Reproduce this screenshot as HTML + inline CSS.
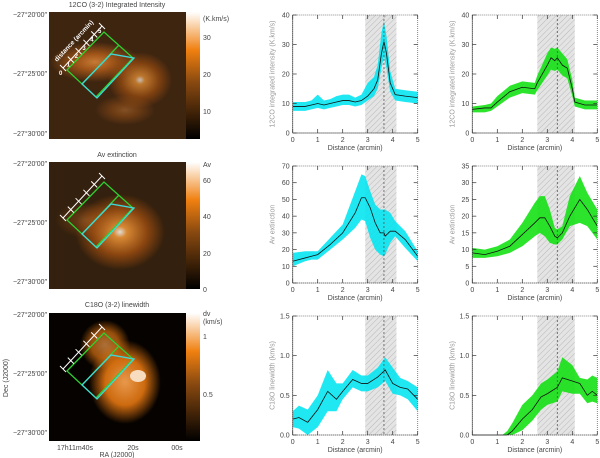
<!DOCTYPE html>
<html><head><meta charset="utf-8">
<style>
html,body{margin:0;padding:0;background:#fff;}
svg{display:block;font-family:"Liberation Sans",sans-serif;}
text{fill:#444;font-size:7px;}
</style></head>
<body>
<svg id="fig" width="600" height="458" viewBox="0 0 600 458" xmlns="http://www.w3.org/2000/svg">
<defs>
<pattern id="hatch" width="4" height="4" patternUnits="userSpaceOnUse" patternTransform="rotate(45)">
<rect width="4" height="4" fill="#e4e4e4"/><line x1="0" y1="0" x2="0" y2="4" stroke="#b8b8b8" stroke-width="1"/>
</pattern>
<linearGradient id="cbar" x1="0" y1="1" x2="0" y2="0">
<stop offset="0" stop-color="#000"/><stop offset="0.45" stop-color="#8a4a10"/><stop offset="0.7" stop-color="#f08010"/><stop offset="1" stop-color="#fff"/>
</linearGradient>
<radialGradient id="blob1" cx="0.5" cy="0.5" r="0.5"><stop offset="0" stop-color="#e89040"/><stop offset="0.4" stop-color="#b8601a"/><stop offset="1" stop-color="#b8601a" stop-opacity="0"/></radialGradient>
<radialGradient id="blob2" cx="0.5" cy="0.5" r="0.5"><stop offset="0" stop-color="#ffffff"/><stop offset="0.15" stop-color="#f39a3a"/><stop offset="0.6" stop-color="#9a4c10"/><stop offset="1" stop-color="#9a4c10" stop-opacity="0"/></radialGradient>
<radialGradient id="blob3" cx="0.5" cy="0.5" r="0.5"><stop offset="0" stop-color="#f4a050"/><stop offset="0.55" stop-color="#d87010"/><stop offset="1" stop-color="#d87010" stop-opacity="0"/></radialGradient>
</defs>

<g>
<text x="117" y="7" text-anchor="middle">12CO (3-2) Integrated Intensity</text>
<rect x="49" y="12" width="137" height="127" fill="#3e2510"/>
<ellipse cx="95" cy="62" rx="45" ry="20" fill="url(#blob1)" opacity="0.8"/>
<ellipse cx="140" cy="80" rx="32" ry="28" fill="url(#blob2)" opacity="0.7"/>
<ellipse cx="125" cy="110" rx="30" ry="15" fill="url(#blob1)" opacity="0.4"/>
<rect x="186" y="12" width="14" height="127" fill="url(#cbar)"/>
<text x="203" y="21">(K.km/s)</text><text x="203" y="40">30</text><text x="203" y="77">20</text><text x="203" y="114">10</text>
<text x="47" y="17" text-anchor="end">−27°20′00″</text><text x="47" y="76" text-anchor="end">−27°25′00″</text><text x="47" y="136" text-anchor="end">−27°30′00″</text>
</g>
<g>
<text x="117" y="157" text-anchor="middle">Av extinction</text>
<rect x="49" y="162" width="137" height="127" fill="#33200e"/>
<ellipse cx="120" cy="232" rx="45" ry="38" fill="url(#blob2)" opacity="0.85"/>
<ellipse cx="85" cy="220" rx="30" ry="18" fill="url(#blob1)" opacity="0.3"/>
<rect x="186" y="162" width="14" height="127" fill="url(#cbar)"/>
<text x="203" y="167">Av</text><text x="203" y="183">60</text><text x="203" y="219">40</text><text x="203" y="256">20</text><text x="203" y="292">0</text>
<text x="47" y="166" text-anchor="end">−27°20′00″</text><text x="47" y="225" text-anchor="end">−27°25′00″</text><text x="47" y="284" text-anchor="end">−27°30′00″</text>
</g>
<g>
<text x="117" y="307" text-anchor="middle">C18O (3-2) linewidth</text>
<rect x="49" y="313" width="137" height="128" fill="#050200"/>
<ellipse cx="125" cy="382" rx="36" ry="42" fill="url(#blob3)" opacity="0.95"/>
<ellipse cx="105" cy="345" rx="25" ry="25" fill="url(#blob3)" opacity="0.7"/>
<ellipse cx="138" cy="376" rx="8" ry="6" fill="#f8dcc0"/>
<rect x="186" y="313" width="14" height="128" fill="url(#cbar)"/>
<text x="203" y="316">dv</text><text x="203" y="324">(km/s)</text><text x="203" y="339">1</text><text x="203" y="397">0.5</text>
<text x="47" y="317" text-anchor="end">−27°20′00″</text><text x="47" y="376" text-anchor="end">−27°25′00″</text><text x="47" y="435" text-anchor="end">−27°30′00″</text>
<text x="75" y="450" text-anchor="middle">17h11m40s</text><text x="133" y="450" text-anchor="middle">20s</text><text x="177" y="450" text-anchor="middle">00s</text>
<text x="117" y="457" text-anchor="middle">RA (J2000)</text>
<text transform="translate(8,378) rotate(-90)" text-anchor="middle">Dec (J2000)</text>
</g>
<g id="overlays"></g>
<g id="plots"></g>
</svg>
<script>
const NS="http://www.w3.org/2000/svg";
function mk(tag,attrs,parent){const e=document.createElementNS(NS,tag);for(const k in attrs)e.setAttribute(k,attrs[k]);parent.appendChild(e);return e;}

const mapTops=[12,162,313];
const ov=document.getElementById('overlays');
mapTops.forEach(function(t,i){
  const g=mk('g',{transform:'translate(49,'+t+')'},ov);
  
  
  mk('polygon',{points:'18,58 55,20 84,46 47,85',fill:'none',stroke:'#2fd02f','stroke-width':1.3},g);
  mk('line',{x1:33,y1:72,x2:70,y2:33,stroke:'#2fd02f','stroke-width':1.3},g);
  mk('polygon',{points:'33,72 62,42 85,46 48,86',fill:'none',stroke:'#40d8d8','stroke-width':1.3},g);
  mk('line',{x1:14,y1:56,x2:53,y2:14,stroke:'#fff','stroke-width':1},g);
  for(let k=0;k<=5;k++){const x=14+k*7.8,y=56-k*8.4;mk('line',{x1:x-3,y1:y-3,x2:x+3,y2:y+3,stroke:'#fff','stroke-width':1},g);}
  if(i===0){
    const tl=mk('text',{transform:'translate(8,50) rotate(-47)',style:'fill:#fff;font-size:6.5px;font-weight:bold'},g);
    tl.textContent='distance (arcmin)';
    ['0','1','2','3','4','5'].forEach(function(s,k){const tt=mk('text',{x:10+k*7.8,y:63-k*8.4,style:'fill:#fff;font-size:6px;font-weight:bold'},g);tt.textContent=s;});
  }
});

const xTicks=[0,1,2,3,4,5];
const co_cyan_x=[0,0.5,0.75,1,1.25,1.5,1.75,2,2.25,2.5,2.75,3,3.25,3.4,3.55,3.65,3.75,3.9,4.1,4.5,5];
const co_cyan_mid=[9,9,9.5,10,9.5,10,10.5,11,11,10.5,11,12.5,15,18,27,31,27,17,13,12.5,12];
const co_cyan_hi=[10.5,10.5,11,13,11,11.5,12.5,13,13,12,13,17,19,23,34,38,33,21,15,14.5,14];
const co_cyan_lo=[7.5,7.5,8,8.5,8,8.5,9,9.5,9.5,9,9.5,11,12.5,15,22,26,22,14,11,10.5,10];
const co_green_x=[0,0.5,0.75,1,1.5,2,2.5,2.6,3,3.15,3.3,3.4,3.6,3.8,4,4.1,4.5,5];
const co_green_mid=[8,8.5,8.5,10.5,14,15.5,15,17,23,25.5,24.5,25.5,23,22,15,10.5,9.5,9.5];
const co_green_hi=[9,9.5,10,12.5,16,17.5,17,19.5,27,29,28.5,29,27,25,18,12,11,11];
const co_green_lo=[7,7,7.5,9,12,13.5,13,14.5,19.5,21.5,21,21.5,19.5,18.5,12.5,9,8,8];
const av_cyan_x=[0,0.5,0.75,1,1.5,2,2.5,2.75,2.9,3.1,3.3,3.5,3.65,3.7,3.9,4.1,4.5,5];
const av_cyan_mid=[13,15,16,17,23,30,42,51,51,45,36,30,30,28,31,31,26,16];
const av_cyan_hi=[18,19,19,19,27,35,55,65,64,55,47,44,44,44,42,37,31,19];
const av_cyan_lo=[10,13,14,14,20,26,33,38,37,27,20,17,16,17,24,28,21,13];
const av_green_x=[0,0.5,1,1.5,2,2.5,2.7,2.9,3.1,3.3,3.4,3.6,3.9,4.3,4.6,5];
const av_green_mid=[9,8.5,9.5,11,14.5,18,19.5,19.5,17,14,13.5,15,20,25,22,17];
const av_green_hi=[10.5,10,11,13,18,24,26,26,22,16.5,16,17,26,32,27,22];
const av_green_lo=[7.5,7.5,8,9,11,14,15,14,12,11.5,11.5,13,17,18,17,13];
const lw_cyan_x=[0,0.25,0.6,1,1.4,1.75,2,2.4,2.75,3,3.4,3.7,4,4.3,4.6,5];
const lw_cyan_mid=[0.2,0.22,0.16,0.32,0.55,0.45,0.55,0.7,0.65,0.65,0.73,0.82,0.65,0.6,0.58,0.45];
const lw_cyan_hi=[0.3,0.37,0.32,0.5,0.82,0.65,0.65,0.82,0.75,0.75,0.85,0.98,0.85,0.72,0.68,0.6];
const lw_cyan_lo=[0.1,0.08,0,0.1,0.3,0.3,0.45,0.6,0.55,0.55,0.6,0.68,0.52,0.5,0.45,0.3];
const lw_green_x=[0,1.2,1.4,1.6,2,2.4,2.75,3,3.4,3.6,4,4.3,4.6,4.8,5];
const lw_green_mid=[0,0,0,0.05,0.2,0.32,0.48,0.52,0.6,0.72,0.68,0.65,0.5,0.55,0.5];
const lw_green_hi=[0,0,0.05,0.15,0.38,0.5,0.65,0.7,0.8,0.98,0.88,0.72,0.7,0.75,0.72];
const lw_green_lo=[0,0,0,0,0.06,0.18,0.32,0.38,0.42,0.55,0.52,0.52,0.4,0.42,0.4];
const coTicks=[0,10,20,30,40];
const avCyanTicks=[0,10,20,30,40,50,60,70];
const avGreenTicks=[0,5,10,15,20,25,30,35];
const lwTicks=[0,0.5,1.0,1.5];
const lwTickLabels=['0.0','0.5','1.0','1.5'];
const cyanRegion=[2.9,4.15,3.65];
const greenRegion=[2.6,4.1,3.4];

const plots=document.getElementById('plots');
function panel(o){
  const x0=o.left,x1=o.left+125,y0=o.bottom,y1=o.top;
  const ymax=o.ticks[o.ticks.length-1];
  const X=function(v){return x0+(v/5)*(x1-x0);};
  const Y=function(v){return y0-(v/ymax)*(y0-y1);};
  const g=mk('g',{},plots);
  
  
  const sh=mk('rect',{x:X(o.region[0]),y:y1,width:X(o.region[1])-X(o.region[0]),height:y0-y1,fill:'url(#hatch)'},g);
  
  
  let pts=[];
  for(let i=0;i<o.x.length;i++)pts.push(X(o.x[i])+','+Y(o.hi[i]));
  for(let i=o.x.length-1;i>=0;i--)pts.push(X(o.x[i])+','+Y(o.lo[i]));
  const band=mk('polygon',{points:pts.join(' '),fill:o.color,'fill-opacity':0.88},g);
  
  
  mk('line',{x1:X(o.region[2]),y1:y1,x2:X(o.region[2]),y2:y0,stroke:'#555','stroke-width':0.8,'stroke-dasharray':'2,2'},g);
  const lp=o.x.map(function(v,i){return X(v)+','+Y(o.mid[i]);}).join(' ');
  const ln=mk('polyline',{points:lp,fill:'none',stroke:'#111','stroke-width':0.8},g);
  
  
  mk('rect',{x:x0,y:y1,width:x1-x0,height:y0-y1,fill:'none',stroke:'#666','stroke-width':0.8,'stroke-dasharray':'1,1'},g);
  mk('line',{x1:x0,y1:y1,x2:x0,y2:y0,stroke:'#333','stroke-width':0.8,'stroke-dasharray':'1,1'},g);
  mk('line',{x1:x0,y1:y0,x2:x1,y2:y0,stroke:'#333','stroke-width':0.8,'stroke-dasharray':'1,1'},g);
  xTicks.forEach(function(t){
    mk('line',{x1:X(t),y1:y0,x2:X(t),y2:y0-4,stroke:'#333','stroke-width':0.7},g);
    mk('line',{x1:X(t),y1:y1,x2:X(t),y2:y1+4,stroke:'#333','stroke-width':0.7},g);
    const tx=mk('text',{x:X(t),y:y0+9,'text-anchor':'middle'},g);tx.textContent=String(t);
  });
  o.ticks.forEach(function(t,i){
    mk('line',{x1:x0,y1:Y(t),x2:x0+4,y2:Y(t),stroke:'#333','stroke-width':0.7},g);
    mk('line',{x1:x1,y1:Y(t),x2:x1-4,y2:Y(t),stroke:'#333','stroke-width':0.7},g);
    const ty=mk('text',{x:x0-3,y:Y(t)+2.5,'text-anchor':'end'},g);ty.textContent=o.labels?o.labels[i]:String(t);
  });
  const xt=mk('text',{x:(x0+x1)/2,y:y0+17,'text-anchor':'middle'},g);
  
  
  xt.textContent='Distance (arcmin)';
  const yt=mk('text',{transform:'translate('+(x0-18)+','+((y0+y1)/2)+') rotate(-90)','text-anchor':'middle',style:'fill:#999'},g);
  
  
  yt.textContent=o.ytitle;
}
const C='#00e5f0',G='#10e010';
panel({name:'plot-12co-cyan',left:292.7,top:15,bottom:133,ticks:coTicks,x:co_cyan_x,mid:co_cyan_mid,hi:co_cyan_hi,lo:co_cyan_lo,color:C,region:cyanRegion,ytitle:'12CO integrated intensity (K.km/s)'});
panel({name:'plot-12co-green',left:472.3,top:15,bottom:133,ticks:coTicks,x:co_green_x,mid:co_green_mid,hi:co_green_hi,lo:co_green_lo,color:G,region:greenRegion,ytitle:'12CO integrated intensity (K.km/s)'});
panel({name:'plot-av-cyan',left:292.7,top:166,bottom:283,ticks:avCyanTicks,x:av_cyan_x,mid:av_cyan_mid,hi:av_cyan_hi,lo:av_cyan_lo,color:C,region:cyanRegion,ytitle:'Av extinction'});
panel({name:'plot-av-green',left:472.3,top:166,bottom:283,ticks:avGreenTicks,x:av_green_x,mid:av_green_mid,hi:av_green_hi,lo:av_green_lo,color:G,region:greenRegion,ytitle:'Av extinction'});
panel({name:'plot-linewidth-cyan',left:292.7,top:316,bottom:435,ticks:lwTicks,labels:lwTickLabels,x:lw_cyan_x,mid:lw_cyan_mid,hi:lw_cyan_hi,lo:lw_cyan_lo,color:C,region:cyanRegion,ytitle:'C18O linewidth (km/s)'});
panel({name:'plot-linewidth-green',left:472.3,top:316,bottom:435,ticks:lwTicks,labels:lwTickLabels,x:lw_green_x,mid:lw_green_mid,hi:lw_green_hi,lo:lw_green_lo,color:G,region:greenRegion,ytitle:'C18O linewidth (km/s)'});
</script>
</body></html>
